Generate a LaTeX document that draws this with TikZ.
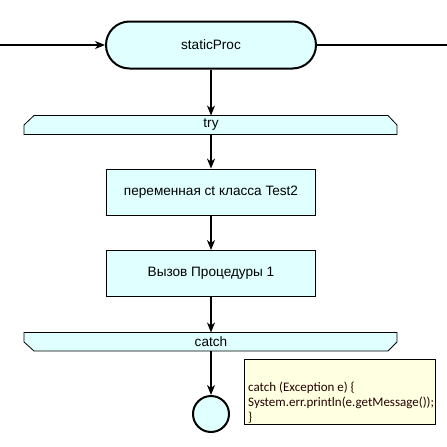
\documentclass[tikz,border=0pt]{standalone}
\usepackage{fontspec}
\setmainfont{Liberation Sans}
\newfontfamily\notefont{Carlito}
\usetikzlibrary{arrows.meta,shapes.misc}
\definecolor{boxfill}{HTML}{E0FFFF}
\definecolor{notefill}{HTML}{FFFFE1}
\tikzset{
  conn/.style={line width=1.2pt,-{Stealth[length=10pt,width=8pt,inset=3pt]}},
  plain/.style={line width=1.2pt},
  actbox/.style={draw,line width=0.8pt,fill=boxfill,minimum width=209pt,minimum height=46pt,inner sep=0pt,font=\fontsize{13.6}{16}\selectfont},
  term/.style={draw,line width=2pt,fill=boxfill,rounded rectangle,minimum width=210pt,minimum height=47pt,inner sep=0pt,font=\fontsize{13.6}{16}\selectfont},
  endc/.style={draw,line width=2pt,fill=boxfill,circle,minimum size=36pt,inner sep=0pt},
  lbl/.style={font=\fontsize{13.6}{16}\selectfont,inner sep=0pt},
  notebox/.style={draw,line width=0.8pt,fill=notefill,minimum width=191pt,minimum height=65pt,inner sep=0pt},
  notetext/.style={anchor=base west,inner sep=0pt,font=\notefont\fontsize{13}{15}\selectfont,color=black!85!red},
}
\begin{document}
\begin{tikzpicture}[x=1pt,y=-1pt]
\useasboundingbox (0,0) rectangle (447,447);
% terminal
\node[term] (start) at (211,45) {staticProc};
\coordinate (inL) at (0,45);
\coordinate (outR) at (447,45);
\draw[conn] (inL) -- (start.west);
\draw[plain] (start.east) -- (outR);
% try block
\draw[line width=0.8pt,fill=boxfill] (34,115.5) -- (388,115.5) -- (397,125) -- (397,134.5) -- (24,134.5) -- (24,125) -- cycle;
\node[lbl] (try) at (211,125) {try};
\coordinate (tryT) at (211,115.5);
\coordinate (tryB) at (211,134.5);
\draw[conn] (start.south) -- (tryT);
% boxes
\node[actbox] (b1) at (211,192) {переменная ct класса Test2};
\node[actbox] (b2) at (211,273.5) {Вызов Процедуры 1};
\draw[conn] (tryB) -- (b1.north);
\draw[conn] (b1.south) -- (b2.north);
% catch block
\draw[line width=0.8pt,fill=boxfill] (24,332.5) -- (397,332.5) -- (397,342) -- (388,351) -- (34,351) -- (24,342) -- cycle;
\node[lbl] (catch) at (211,342) {catch};
\coordinate (catT) at (211,332.5);
\coordinate (catB) at (211,351);
\draw[conn] (b2.south) -- (catT);
% end circle
\node[endc] (end) at (211,414) {};
\draw[conn] (catB) -- (end.north);
% note
\node[notebox] (note) at (339.5,391.5) {};
\node[notetext] (n1) at (248,391) {catch (Exception e) \{};
\node[notetext] (n2) at (248,406.5) {System.err.println(e.getMessage());};
\node[notetext] (n3) at (248,421.5) {\}};
\end{tikzpicture}
\end{document}
